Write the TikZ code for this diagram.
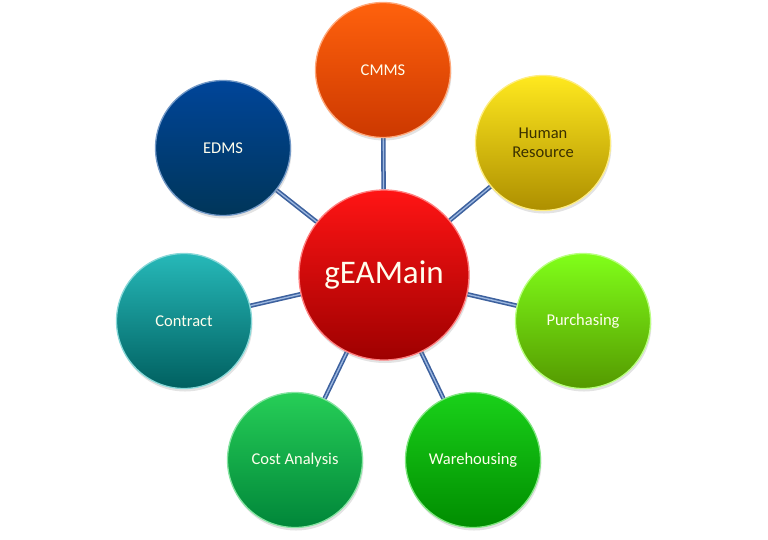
\documentclass[tikz,border=0pt]{standalone}
\usepackage{fontspec}
\setmainfont{Carlito}
\usetikzlibrary{shadows,backgrounds}
\definecolor{spokeblue}{HTML}{3D619E}
\definecolor{spokelight}{HTML}{9DB8E0}
\definecolor{hrtext}{HTML}{3A3000}
\tikzset{
  bubble/.style n args={2}{circle, minimum size=135pt, inner sep=0pt, align=center,
    top color=#1, bottom color=#2, draw=#1!55!white, line width=1.3pt,
    font=\fontsize{16.5}{19}\selectfont, text=white!93!yellow,
    drop shadow={opacity=.22, shadow xshift=1pt, shadow yshift=-3pt}},
  spoke/.style={draw=spokeblue, line width=1.6pt, double=spokelight, double distance=1.3pt}
}
\begin{document}
\begin{tikzpicture}[x=1pt, y=-1pt]
  \useasboundingbox (0,0) rectangle (768,539);
  % hub
  \node[bubble={red!92!white}{red!62!black}, minimum size=170pt,
        font=\fontsize{33}{36}\selectfont] (main) at (384,275) {gEAMain};
  % modules
  \node[bubble={orange!70!red!95!white}{orange!55!red!80!black}] (cmms) at (383,70) {CMMS};
  \node[bubble={yellow!80!orange!88!white}{yellow!65!orange!68!black}, text=hrtext] (hr) at (543,143) {Human\\Resource};
  \node[bubble={green!55!yellow!90!white}{green!45!yellow!60!black}] (purch) at (583,321) {Purchasing};
  \node[bubble={green!80!black!90!white}{green!55!black}] (ware) at (473,460) {Warehousing};
  \node[bubble={green!55!teal!85!white}{green!40!teal!75!black}] (cost) at (295,460) {Cost Analysis};
  \node[bubble={teal!65!cyan!85!white}{teal!75!black}] (contract) at (184,321) {Contract};
  \node[bubble={blue!55!cyan!60!black}{blue!40!cyan!35!black}] (edms) at (223,148) {EDMS};
  % connectors
  \begin{scope}[on background layer]
    \foreach \m in {cmms,hr,purch,ware,cost,contract,edms}
      \draw[spoke] (main) -- (\m);
  \end{scope}
\end{tikzpicture}
\end{document}
